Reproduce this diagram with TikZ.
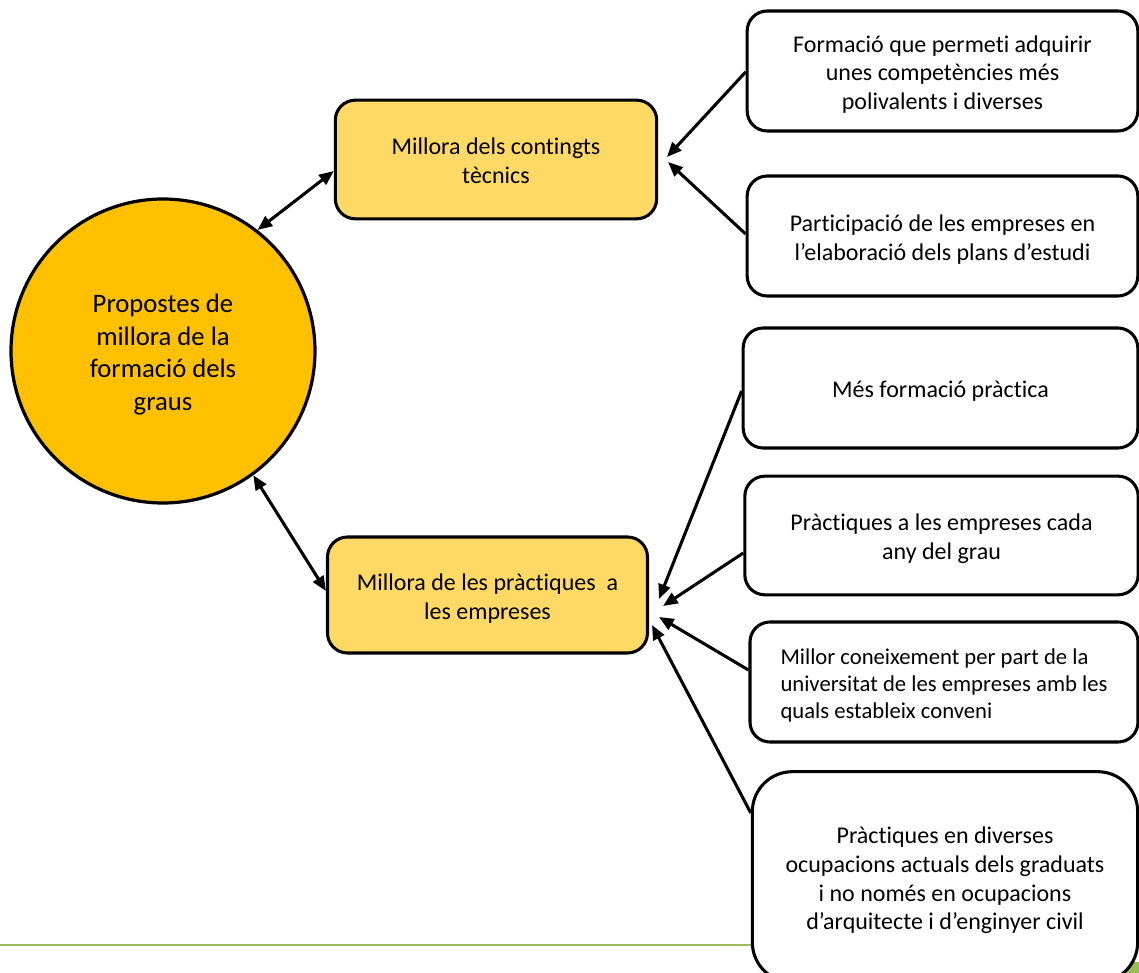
\documentclass[tikz,border=0pt]{standalone}
\usepackage{fontspec}
\setmainfont{Carlito}[Ligatures=NoCommon]
\usetikzlibrary{arrows.meta}
\definecolor{hubfill}{HTML}{FFC000}
\definecolor{midfill}{HTML}{FFD966}
\definecolor{rulegreen}{HTML}{9BBB59}
% text block set slightly low in its box, keeping its nominal size
\newcommand{\lowtext}[2][c]{\raisebox{-3pt}[\height][\depth]{\begin{tabular}{@{}#1@{}}#2\end{tabular}}}
\tikzset{
  hub/.style={circle, draw=black, line width=2.4pt, fill=hubfill, minimum size=228pt,
    align=center, font=\fontsize{20}{24.6}\selectfont, inner sep=0pt},
  midbox/.style={rectangle, rounded corners=15pt, draw=black, line width=2.3pt, fill=midfill,
    font=\fontsize{18}{21.8}\selectfont, inner sep=0pt},
  leafbox/.style={rectangle, rounded corners=15pt, draw=black, line width=2.3pt, fill=white,
    font=\fontsize{18}{21.5}\selectfont, inner sep=0pt},
  link/.style={line width=2.3pt, -{Triangle[length=11pt,width=9pt]}},
  biglink/.style={line width=2.3pt, {Triangle[length=11pt,width=9pt]}-{Triangle[length=11pt,width=9pt]}},
}
\begin{document}
\begin{tikzpicture}[x=0.75pt, y=-0.75pt]
  \useasboundingbox (0,0) rectangle (1139,973);
  % footer rule and corner decoration
  \draw[rulegreen, line width=2pt] (0,945) -- (760,945);
  \fill[rulegreen] (1115,962) rectangle (1139,973);

  % central topic
  \node[hub] (hub) at (163,351) {\lowtext{Propostes de\\millora de la\\formació dels\\graus}};

  % intermediate proposals
  \node[midbox, minimum width=241pt, minimum height=89pt] (tec) at (496,159.5)
    {\lowtext{Millora dels contingts\\tècnics}};
  \node[midbox, minimum width=240pt, minimum height=87pt] (prac) at (487.5,595)
    {\lowtext{Millora de les pràctiques\ \ a\\les empreses}};

  % detailed proposals
  \node[leafbox, minimum width=293pt, minimum height=90pt] (r1) at (942.5,71)
    {\lowtext{Formació que permeti adquirir\\unes competències més\\polivalents i diverses}};
  \node[leafbox, minimum width=293pt, minimum height=90pt] (r2) at (942.5,236)
    {\lowtext{Participació de les empreses en\\l’elaboració dels plans d’estudi}};
  \node[leafbox, minimum width=296pt, minimum height=90pt] (r3) at (940.5,388)
    {\lowtext{Més formació pràctica}};
  \node[leafbox, minimum width=295pt, minimum height=89pt] (r4) at (941.5,535.5)
    {\lowtext{Pràctiques a les empreses cada\\any del grau}};
  \node[leafbox, minimum width=291pt, minimum height=90pt,
    font=\fontsize{17}{20}\selectfont] (r5) at (944,682)
    {\lowtext[l]{Millor coneixement per part de la\\universitat de les empreses amb les\\quals estableix conveni}};
  \node[leafbox, rounded corners=30pt, minimum width=289pt, minimum height=158pt] (r6) at (945,877)
    {\lowtext{Pràctiques en diverses\\ocupacions actuals dels graduats\\i no només en ocupacions\\d’arquitecte i d’enginyer civil}};

  % connectors
  \draw[biglink] (hub.52) -- (tec.west |- 0,171);
  \draw[biglink] (hub.-54) -- (prac.west |- 0,591);
  \draw[link] (r1.west |- 0,72) -- (667,157);
  \draw[link] (r2.west |- 0,234) -- (668,162);
  \draw[link] (r3.west |- 0,391) -- (659,599);
  \draw[link] (r4.west |- 0,553) -- (663,606);
  \draw[link] (r5.west |- 0,670) -- (659,617);
  \draw[link] (r6.west |- 0,813) -- (652,625);
\end{tikzpicture}
\end{document}
